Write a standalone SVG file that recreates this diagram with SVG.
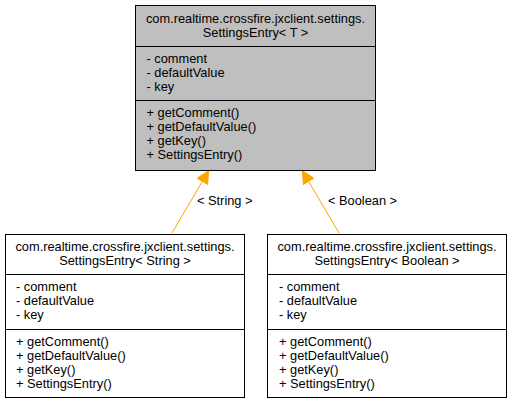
<svg xmlns="http://www.w3.org/2000/svg" width="512" height="404" viewBox="0 0 512 404">
<style>
text{font-family:"Liberation Sans",Arial,sans-serif;font-size:12.8px;fill:#000}
.c{text-anchor:middle}
.box{stroke:#000;stroke-width:1}
.edge{stroke:#ffa500;stroke-width:1;fill:none}
</style>
<defs>
<marker id="ah" viewBox="0 0 10 10" refX="10" refY="5" markerWidth="13" markerHeight="12" markerUnits="userSpaceOnUse" orient="auto">
<path d="M0,0 L10,5 L0,10 z" fill="#ffa500" stroke="#ffa500"/>
</marker>
</defs>
<rect width="512" height="404" fill="#fff"/>
<g id="connectors">
<path class="edge" d="M172,233 L208.5,171" marker-end="url(#ah)"/>
<text x="197" y="205">&lt; String &gt;</text>
<path class="edge" d="M339,233 L302.5,171" marker-end="url(#ah)"/>
<text x="328" y="205">&lt; Boolean &gt;</text>
</g>
<g id="node-T">
<rect class="box" x="135.5" y="5.5" width="240" height="165" fill="#bfbfbf"/>
<line class="box" x1="135.5" y1="46.5" x2="375.5" y2="46.5"/>
<line class="box" x1="135.5" y1="100.5" x2="375.5" y2="100.5"/>
<text class="c" x="255.5" y="23">com.realtime.crossfire.jxclient.settings.</text>
<text class="c" x="255.5" y="37">SettingsEntry&lt; T &gt;</text>
<text x="146.5" y="63">- comment</text>
<text x="146.5" y="77">- defaultValue</text>
<text x="146.5" y="91">- key</text>
<text x="146.5" y="117">+ getComment()</text>
<text x="146.5" y="131">+ getDefaultValue()</text>
<text x="146.5" y="145">+ getKey()</text>
<text x="146.5" y="159">+ SettingsEntry()</text>
</g>
<g id="node-String">
<rect class="box" x="5.5" y="234.5" width="239" height="163" fill="#fff"/>
<line class="box" x1="5.5" y1="274.5" x2="244.5" y2="274.5"/>
<line class="box" x1="5.5" y1="329.5" x2="244.5" y2="329.5"/>
<text class="c" x="125" y="251">com.realtime.crossfire.jxclient.settings.</text>
<text class="c" x="125" y="265">SettingsEntry&lt; String &gt;</text>
<text x="16" y="291">- comment</text>
<text x="16" y="305">- defaultValue</text>
<text x="16" y="319">- key</text>
<text x="16" y="346">+ getComment()</text>
<text x="16" y="360">+ getDefaultValue()</text>
<text x="16" y="374">+ getKey()</text>
<text x="16" y="388">+ SettingsEntry()</text>
</g>
<g id="node-Boolean">
<rect class="box" x="267.5" y="234.5" width="239" height="163" fill="#fff"/>
<line class="box" x1="267.5" y1="274.5" x2="506.5" y2="274.5"/>
<line class="box" x1="267.5" y1="329.5" x2="506.5" y2="329.5"/>
<text class="c" x="387" y="251">com.realtime.crossfire.jxclient.settings.</text>
<text class="c" x="387" y="265">SettingsEntry&lt; Boolean &gt;</text>
<text x="279" y="291">- comment</text>
<text x="279" y="305">- defaultValue</text>
<text x="279" y="319">- key</text>
<text x="279" y="346">+ getComment()</text>
<text x="279" y="360">+ getDefaultValue()</text>
<text x="279" y="374">+ getKey()</text>
<text x="279" y="388">+ SettingsEntry()</text>
</g>
</svg>
